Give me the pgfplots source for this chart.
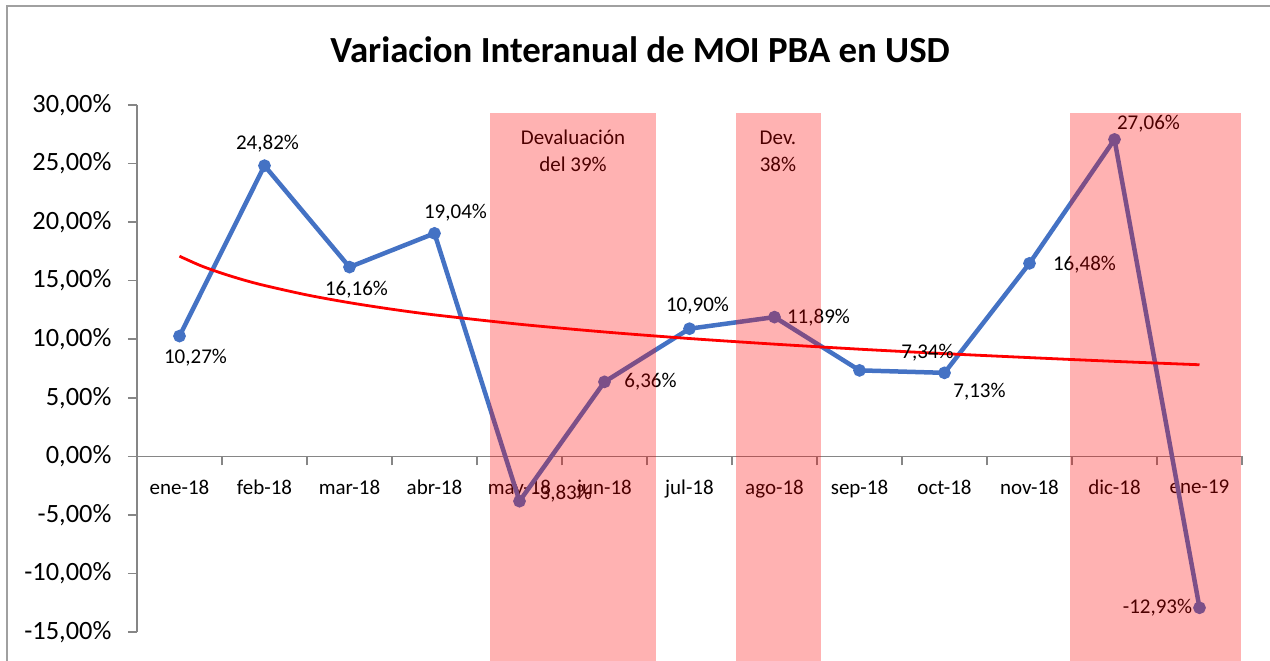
\documentclass[border=0pt]{standalone}
\usepackage{pgfplots}
\pgfplotsset{compat=1.18}
\usepackage{fontspec}
\setmainfont{Carlito}
\definecolor{serie}{HTML}{4472C4}
\definecolor{ejes}{RGB}{134,134,134}
\definecolor{marco}{RGB}{160,160,160}

\begin{document}
\begin{tikzpicture}
  % 1 px of the reference = 0.5pt
  \useasboundingbox (-68.5pt,-14pt) rectangle (566.5pt,316pt);
  \draw[marco, line width=0.8pt] (-65pt,-20pt) -- (-65pt,313pt) -- (580pt,313pt);
  \node[font=\bfseries\fontsize{18.4}{22}\selectfont] at (251.5pt,291pt)
    {Variacion Interanual de MOI PBA en USD};
  \begin{axis}[
      at={(0,0)}, anchor=south west,
      scale only axis, width=552.5pt, height=263.5pt,
      xmin=-0.5, xmax=12.5, ymin=-15, ymax=30,
      axis x line=middle, axis y line=left,
      axis line style={ejes, line width=0.8pt, -},
      every tick/.style={ejes, line width=0.8pt},
      % ticks at the category boundaries, names shifted back to the centres
      xtick={0.5,1.5,2.5,3.5,4.5,5.5,6.5,7.5,8.5,9.5,10.5,11.5,12.5},
      xticklabels={ene-18,feb-18,mar-18,abr-18,may-18,jun-18,jul-18,ago-18,sep-18,oct-18,nov-18,dic-18,ene-19},
      xticklabel style={font=\fontsize{10.5}{12}\selectfont, xshift=-21.25pt, yshift=-6pt},
      x tick style={yshift=-2.25pt},
      ytick={-15,-10,-5,0,5,10,15,20,25,30},
      yticklabels={{-15,00\%},{-10,00\%},{-5,00\%},{0,00\%},{5,00\%},{10,00\%},{15,00\%},{20,00\%},{25,00\%},{30,00\%}},
      y tick style={xshift=-2.25pt},
      major tick length=4.5pt,
      yticklabel style={font=\fontsize{13.2}{15}\selectfont, xshift=-7pt},
      clip=false,
    ]
    \addplot[serie, line width=2.25pt, mark=*, mark size=2pt,
      mark options={fill=serie, draw=serie}]
      coordinates {(0,10.27) (1,24.82) (2,16.16) (3,19.04) (4,-3.83) (5,6.36)
        (6,10.90) (7,11.89) (8,7.34) (9,7.13) (10,16.48) (11,27.06) (12,-12.93)};
    % logarithmic trend line
    \addplot[red, line width=1.4pt, smooth]
      coordinates {(0,17.09) (0.25,16.28) (0.5,15.63) (0.75,15.07) (1,14.59)
        (1.5,13.78) (2,13.12) (2.5,12.56) (3,12.08) (4,11.28) (5,10.62)
        (6,10.06) (7,9.58) (8,9.15) (9,8.77) (10,8.43) (11,8.11) (12,7.82)};
    \begin{scope}[font=\fontsize{10.5}{12}\selectfont]
      \node[xshift=8pt, yshift=-11pt] at (axis cs:0,10.27) {10,27\%};
      \node[xshift=1.5pt, yshift=11pt] at (axis cs:1,24.82) {24,82\%};
      \node[xshift=3.5pt, yshift=-11.5pt] at (axis cs:2,16.16) {16,16\%};
      \node[xshift=10.5pt, yshift=10.5pt] at (axis cs:3,19.04) {19,04\%};
      \node[xshift=21.5pt, yshift=4pt] at (axis cs:4,-3.83) {-3,83\%};
      \node[xshift=23pt] at (axis cs:5,6.36) {6,36\%};
      \node[xshift=4pt, yshift=11.5pt] at (axis cs:6,10.90) {10,90\%};
      \node[xshift=22pt, yshift=-0.5pt] at (axis cs:7,11.89) {11,89\%};
      \node[xshift=34pt, yshift=9pt] at (axis cs:8,7.34) {7,34\%};
      \node[xshift=17.5pt, yshift=-9.5pt] at (axis cs:9,7.13) {7,13\%};
      \node[xshift=27.5pt, yshift=-0.5pt] at (axis cs:10,16.48) {16,48\%};
      \node[xshift=17pt, yshift=8pt] at (axis cs:11,27.06) {27,06\%};
      \node[xshift=-21pt] at (axis cs:12,-12.93) {-12,93\%};
      \node[align=center] at (axis cs:4.63,26.07) {Devaluación\\[1.5pt]del 39\%};
      \node[align=center] at (axis cs:7.04,26.07) {Dev.\\[1.5pt]38\%};
    \end{scope}
    \coordinate (a1) at (axis cs:3.653,29.34);
    \coordinate (b1) at (axis cs:5.606,-18);
    \coordinate (a2) at (axis cs:6.547,29.34);
    \coordinate (b2) at (axis cs:7.547,-18);
    \coordinate (a3) at (axis cs:10.476,29.34);
    \coordinate (b3) at (axis cs:12.488,-18);
  \end{axis}
  % devaluation periods, laid over the chart
  \fill[red, fill opacity=0.3] (a1) rectangle (b1);
  \fill[red, fill opacity=0.3] (a2) rectangle (b2);
  \fill[red, fill opacity=0.3] (a3) rectangle (b3);
\end{tikzpicture}
\end{document}
